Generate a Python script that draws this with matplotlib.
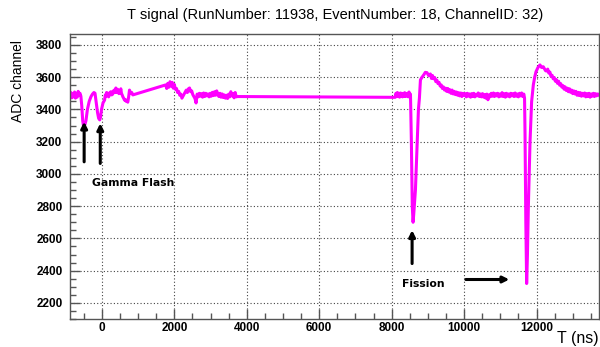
import matplotlib
matplotlib.use("Agg")
import matplotlib.pyplot as plt
from matplotlib.ticker import MultipleLocator

# ---- data (time in ns, ADC value) ----
# before the gamma flash
t_pre = [-880, -855, -830, -805, -780, -755, -730, -705, -680, -655, -630, -605, -580]
v_pre = [3480, 3505, 3472, 3498, 3478, 3508, 3470, 3500, 3476, 3512, 3488, 3500, 3482]

# gamma flash (two dips)
t_gamma = [-555, -530, -510, -490, -470, -440, -400, -350, -300, -260, -220, -190,
           -160, -120, -90, -60, -40, -10, 30]
v_gamma = [3420, 3330, 3300, 3310, 3305, 3330, 3400, 3450, 3480, 3495, 3505, 3500,
           3450, 3380, 3345, 3335, 3350, 3400, 3440]

# after the gamma flash
t_post = [74, 95, 110, 130, 150, 165, 185, 200, 220, 250, 270, 300, 320, 340, 365,
          385, 400, 420, 435, 450, 470, 487, 505, 523, 540, 560, 580, 600, 624, 645,
          670, 690, 715, 730, 740, 762, 780, 800, 825, 853]
v_post = [3458, 3490, 3480, 3505, 3490, 3500, 3478, 3485, 3505, 3510, 3490, 3495,
          3515, 3520, 3505, 3533, 3512, 3505, 3525, 3520, 3498, 3500, 3515, 3528,
          3500, 3490, 3478, 3470, 3458, 3462, 3450, 3455, 3445, 3465, 3480, 3520,
          3510, 3500, 3505, 3490]

# 1760 .. 3740 ns
t_mid = [1760, 1790, 1820, 1850, 1880, 1910, 1940, 1970, 2000, 2030, 2060, 2090,
         2120, 2150, 2180, 2210, 2240, 2270, 2300, 2330, 2360, 2390, 2420, 2450,
         2480, 2510, 2540, 2570, 2600, 2630, 2660, 2690, 2720, 2750, 2780, 2810,
         2840, 2870, 2900, 2930, 2960, 2990, 3020, 3050, 3080, 3110, 3140, 3170,
         3200, 3230, 3260, 3290, 3320, 3350, 3380, 3410, 3440, 3470, 3500, 3530,
         3560, 3590, 3620, 3650, 3680, 3710, 3740]
v_mid = [3552, 3530, 3562, 3538, 3572, 3545, 3568, 3532, 3555, 3525, 3530, 3505,
         3512, 3488, 3495, 3470, 3482, 3495, 3508, 3520, 3505, 3528, 3533, 3510,
         3515, 3492, 3480, 3468, 3440, 3495, 3478, 3500, 3482, 3498, 3476, 3502,
         3480, 3500, 3484, 3496, 3478, 3500, 3482, 3506, 3486, 3510, 3488, 3515,
         3492, 3480, 3500, 3476, 3496, 3474, 3490, 3470, 3488, 3468, 3495, 3478,
         3510, 3484, 3498, 3472, 3505, 3478, 3480]

# noisy baseline before the first fission pulse
t_base1 = [8100, 8120, 8140, 8160, 8180, 8200, 8220, 8240, 8260, 8280, 8300, 8320,
           8340, 8360, 8380, 8400, 8420, 8440, 8460, 8480, 8500, 8520]
v_base1 = [3475, 3500, 3482, 3505, 3480, 3498, 3476, 3502, 3484, 3500, 3478, 3496,
           3482, 3504, 3480, 3498, 3484, 3500, 3478, 3508, 3486, 3495]

# first fission pulse
t_fis1 = [8545, 8570, 8592, 8610, 8657, 8701, 8740, 8767, 8795, 8840, 8886, 8930,
          8977, 9020, 9070]
v_fis1 = [3200, 2800, 2700, 2750, 2900, 3168, 3400, 3470, 3583, 3600, 3614, 3630,
          3628, 3610, 3620]

# tail and baseline before the second pulse
t_base2 = [9100, 9130, 9160, 9190, 9220, 9250, 9280, 9310, 9340, 9370, 9400, 9430,
           9460, 9490, 9520, 9550, 9580, 9610, 9640, 9670, 9700, 9730, 9760, 9790,
           9820, 9850, 9880, 9910, 9940, 9970, 10000, 10030, 10060, 10090, 10120,
           10150, 10180, 10210, 10240, 10270, 10300, 10330, 10360, 10390, 10420,
           10450, 10480, 10510, 10540, 10570, 10600, 10630, 10660, 10690, 10720,
           10750, 10780, 10810, 10840, 10870, 10900, 10930, 10960, 10990, 11020,
           11050, 11080, 11110, 11140, 11170, 11200, 11230, 11260, 11290, 11320,
           11350, 11380, 11410, 11440, 11470, 11500, 11530, 11560, 11590, 11620,
           11650, 11670]
v_base2 = [3592, 3610, 3590, 3598, 3572, 3582, 3560, 3568, 3545, 3552, 3530, 3540,
           3520, 3532, 3512, 3530, 3508, 3522, 3500, 3520, 3496, 3512, 3492, 3508,
           3488, 3504, 3484, 3502, 3480, 3500, 3486, 3498, 3478, 3500, 3482,
           3496, 3476, 3498, 3480, 3500, 3478, 3494, 3484, 3502, 3480,
           3496, 3478, 3498, 3476, 3492, 3470, 3495, 3460, 3490, 3478,
           3500, 3482, 3502, 3480, 3498, 3484, 3500, 3478, 3496, 3482,
           3504, 3480, 3498, 3476, 3500, 3482, 3496, 3478, 3500, 3484,
           3498, 3480, 3502, 3482, 3496, 3478, 3500, 3484, 3502, 3480,
           3495, 3470]

# second fission pulse
t_fis2 = [11683, 11705, 11728, 11750, 11774, 11821, 11865, 11912, 11950, 11986,
          12040, 12096, 12140, 12187, 12250]
v_fis2 = [3250, 2700, 2320, 2500, 2786, 3200, 3448, 3552, 3600, 3634,
          3660, 3676, 3660, 3665, 3640]

# tail after the second pulse
t_tail = [12280, 12310, 12340, 12370, 12400, 12430, 12460, 12490, 12520, 12550,
          12580, 12610, 12640, 12670, 12700, 12730, 12760, 12790, 12820, 12850,
          12880, 12910, 12940, 12970, 13000, 13030, 13060, 13090, 13120, 13150,
          13180, 13210, 13240, 13270, 13300, 13330, 13360, 13390, 13420, 13450,
          13480, 13510, 13540, 13570, 13600, 13630, 13660, 13690, 13720]
v_tail = [3638, 3650, 3625, 3632, 3605, 3612, 3590, 3598, 3575, 3585,
          3562, 3575, 3550, 3560, 3538, 3548, 3526, 3540, 3518, 3532,
          3510, 3528, 3506, 3520, 3498, 3515, 3496, 3512, 3488, 3506,
          3486, 3504, 3482, 3500, 3484, 3502, 3478, 3498, 3480, 3500,
          3476, 3496, 3482, 3500, 3480, 3498, 3484, 3496, 3490]

title = "T signal (RunNumber: 11938, EventNumber: 18, ChannelID: 32)"
xlabel = "T (ns)"
ylabel = "ADC channel"
gamma_label = "Gamma Flash"
fission_label = "Fission"

t_ns = t_pre + t_gamma + t_post + t_mid + t_base1 + t_fis1 + t_base2 + t_fis2 + t_tail
adc = v_pre + v_gamma + v_post + v_mid + v_base1 + v_fis1 + v_base2 + v_fis2 + v_tail

plt.rcParams['font.family'] = ['Liberation Sans', 'DejaVu Sans']

fig = plt.figure(figsize=(6.0, 3.47), dpi=100)
ax = fig.add_axes([0.1167, 0.0807, 0.8813, 0.8223])

ax.plot(t_ns, adc, color='#ff00ff', lw=2.2)

ax.set_xlim(-880, 13720)
ax.set_ylim(2100, 3870)

ax.xaxis.set_major_locator(MultipleLocator(2000))
ax.xaxis.set_minor_locator(MultipleLocator(500))
ax.yaxis.set_major_locator(MultipleLocator(200))
ax.yaxis.set_minor_locator(MultipleLocator(50))

ax.grid(True, which='major', ls=(0, (1, 2)), color='#444444', lw=0.8)
ax.tick_params(which='both', direction='in', top=False, right=False,
               color='#555555')
ax.tick_params(which='major', length=7, width=1.0, labelsize=8.5)
ax.tick_params(which='minor', length=4, width=1.0)
ax.tick_params(axis='y', pad=5.5)
ax.tick_params(axis='x', pad=2.5)
for lab in ax.get_xticklabels() + ax.get_yticklabels():
    lab.set_fontweight('bold')
for sp in ax.spines.values():
    sp.set_color('#555555')
    sp.set_linewidth(1.0)

fig.text(0.558, 0.958, title, ha='center', va='center', fontsize=10.5)
fig.text(0.997, 0.025, xlabel, ha='right', va='center', fontsize=11.5)
fig.text(0.03, 0.885, ylabel, ha='center', va='top', rotation=90, fontsize=10)

arrow = dict(arrowstyle='-|>', lw=2.2, color='black', mutation_scale=9,
             shrinkA=0, shrinkB=0)
ax.annotate('', xy=(-490, 3324), xytext=(-490, 3075), arrowprops=arrow)
ax.annotate('', xy=(-45, 3314), xytext=(-45, 3065), arrowprops=arrow)
ax.annotate('', xy=(8565, 2651), xytext=(8565, 2444), arrowprops=arrow)
ax.annotate('', xy=(11250, 2345), xytext=(10050, 2345), arrowprops=arrow)

ax.text(-275, 2945, gamma_label, fontsize=7.8, fontweight='bold',
        family=['DejaVu Sans'], ha='left', va='center')
ax.text(8281, 2320, fission_label, fontsize=7.8, fontweight='bold',
        family=['DejaVu Sans'], ha='left', va='center')

fig.savefig("out.png", dpi=100)
